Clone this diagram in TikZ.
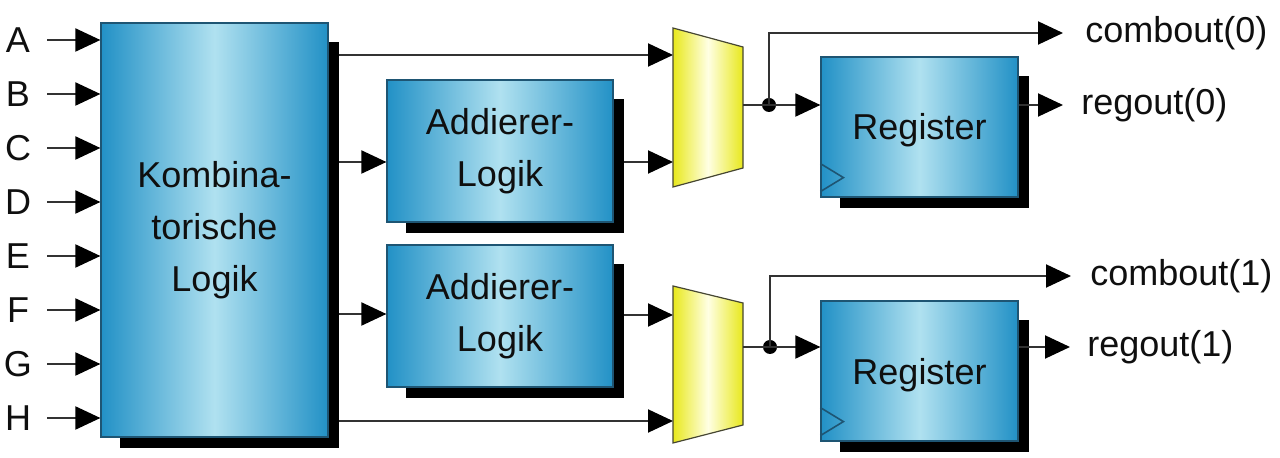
\documentclass[tikz,border=0pt]{standalone}
\usepackage{fontspec}
\setmainfont{Liberation Sans}
\usetikzlibrary{arrows.meta}
\definecolor{boxedge}{RGB}{34,145,198}
\definecolor{boxmid}{RGB}{176,225,240}
\definecolor{boxline}{RGB}{30,85,115}
\definecolor{muxy}{RGB}{232,232,28}
\definecolor{muxmid}{RGB}{255,255,228}
\definecolor{muxline}{RGB}{70,70,50}
\definecolor{wire}{RGB}{50,50,50}
\definecolor{txt}{RGB}{15,15,15}
\begin{document}
\begin{tikzpicture}[x=0.5pt,y=-0.5pt,
  blk/.style={draw=boxline, line width=0.6pt, left color=boxedge, right color=boxedge, middle color=boxmid, inner sep=0pt, align=center, text=txt, font=\fontsize{18}{26}\selectfont},
  shad/.style={fill=black},
  wireline/.style={draw=wire, line width=1pt},
  arr/.style={wireline, -{Triangle[length=12.5pt,width=11.5pt,color=black]}},
  lbl/.style={text=txt, font=\fontsize{18}{22}\selectfont, inner sep=0pt},
  muxst/.style={draw=muxline, line width=0.6pt, left color=muxy, right color=muxy, middle color=muxmid},
  clk/.style={draw=boxline, line width=0.8pt},
  dotst/.style={circle, fill=black, inner sep=0pt, minimum size=7pt}
]
\useasboundingbox (0,0) rectangle (1280,458);

% ---------- blocks ----------
\node[blk, minimum width=113.5pt, minimum height=207pt] (komb) at (214.5,230) {Kombina-\\torische\\Logik};
\node[blk, minimum width=113pt, minimum height=71pt] (add1) at (500,151) {Addierer-\\Logik};
\node[blk, minimum width=113pt, minimum height=71pt] (add2) at (500,316) {Addierer-\\Logik};
\node[blk, minimum width=98.5pt, minimum height=70pt, text height=13pt, text depth=0pt] (reg1) at (919.5,127) {Register};
\node[blk, minimum width=98.5pt, minimum height=70pt, text height=14pt, text depth=0pt] (reg2) at (919.5,371) {Register};

% ---------- input labels ----------
\coordinate (inx) at (47,0);
\foreach \n/\y in {A/40,B/94,C/148,D/202,E/256,F/310,G/364,H/418}{
  \node[lbl] (l\n) at (18,\y) {\n};
}

% ---------- wires (drawn below boxes) ----------
\coordinate (m1a) at (673,55);
\coordinate (m1b) at (673,162);
\coordinate (m1o) at (743,105);
\coordinate (m2a) at (673,315);
\coordinate (m2b) at (673,421);
\coordinate (m2o) at (743,347);
\coordinate (k1) at (328,162);
\coordinate (k2) at (328,314);

\foreach \n in {A,B,C,D,E,F,G,H}{
  \draw[arr] (l\n.center -| inx) -- (l\n.center -| komb.west);
}
\draw[arr] (komb.east |- m1a) -- (m1a);
\draw[arr] (komb.east |- k1) -- (add1.west |- k1);
\draw[arr] (add1.east |- m1b) -- (m1b);
\draw[arr] (komb.east |- k2) -- (add2.west |- k2);
\draw[arr] (add2.east |- m2a) -- (m2a);
\draw[arr] (komb.east |- m2b) -- (m2b);

% ---------- shadows ----------
\foreach \b in {komb,add1,add2,reg1,reg2}{
  \fill[shad] ([shift={(20,20)}]\b.north west) rectangle ([shift={(10,10)}]\b.south east);
}
% redraw boxes above shadows
\node[blk, minimum width=113.5pt, minimum height=207pt] at (komb) {Kombina-\\torische\\Logik};
\node[blk, minimum width=113pt, minimum height=71pt] at (add1) {Addierer-\\Logik};
\node[blk, minimum width=113pt, minimum height=71pt] at (add2) {Addierer-\\Logik};
\node[blk, minimum width=98.5pt, minimum height=70pt, text height=13pt, text depth=0pt] at (reg1) {Register};
\node[blk, minimum width=98.5pt, minimum height=70pt, text height=14pt, text depth=0pt] at (reg2) {Register};

% ---------- clock marks ----------
\foreach \b in {reg1,reg2}{
  \draw[clk] ([shift={(0,-34)}]\b.south west) -- ([shift={(23,-20)}]\b.south west) -- ([shift={(0,-6)}]\b.south west);
}

% ---------- multiplexers ----------
\draw[muxst] (673,28) -- (743,47) -- (743,168) -- (673,187) -- cycle;
\draw[muxst] (673,286) -- (743,303) -- (743,425) -- (673,443) -- cycle;

% ---------- output labels ----------
\node[lbl, anchor=west] (co0) at (1085,33) {combout(0)};
\node[lbl, anchor=west] (ro0) at (1081,105) {regout(0)};
\node[lbl, anchor=west] (co1) at (1090,276) {combout(1)};
\node[lbl, anchor=west] (ro1) at (1087,347) {regout(1)};

% ---------- output wiring ----------
\node[dotst] (d1) at (769,105) {};
\node[dotst] (d2) at (770,347) {};
\draw[wireline] (m1o) -- (d1.center);
\draw[wireline] (m2o) -- (d2.center);
\draw[arr] (d1.center) -- (d1.center -| reg1.west);
\draw[arr] (d2.center) -- (d2.center -| reg2.west);
\draw[arr] (d1.center) |- ([xshift=-11pt]co0.west);
\draw[arr] (d2.center) |- ([xshift=-9.5pt]co1.west);
\draw[arr] (reg1.east |- d1) -- ([xshift=-9pt]ro0.west);
\draw[arr] (reg2.east |- d2) -- ([xshift=-8.5pt]ro1.west);
\end{tikzpicture}
\end{document}
